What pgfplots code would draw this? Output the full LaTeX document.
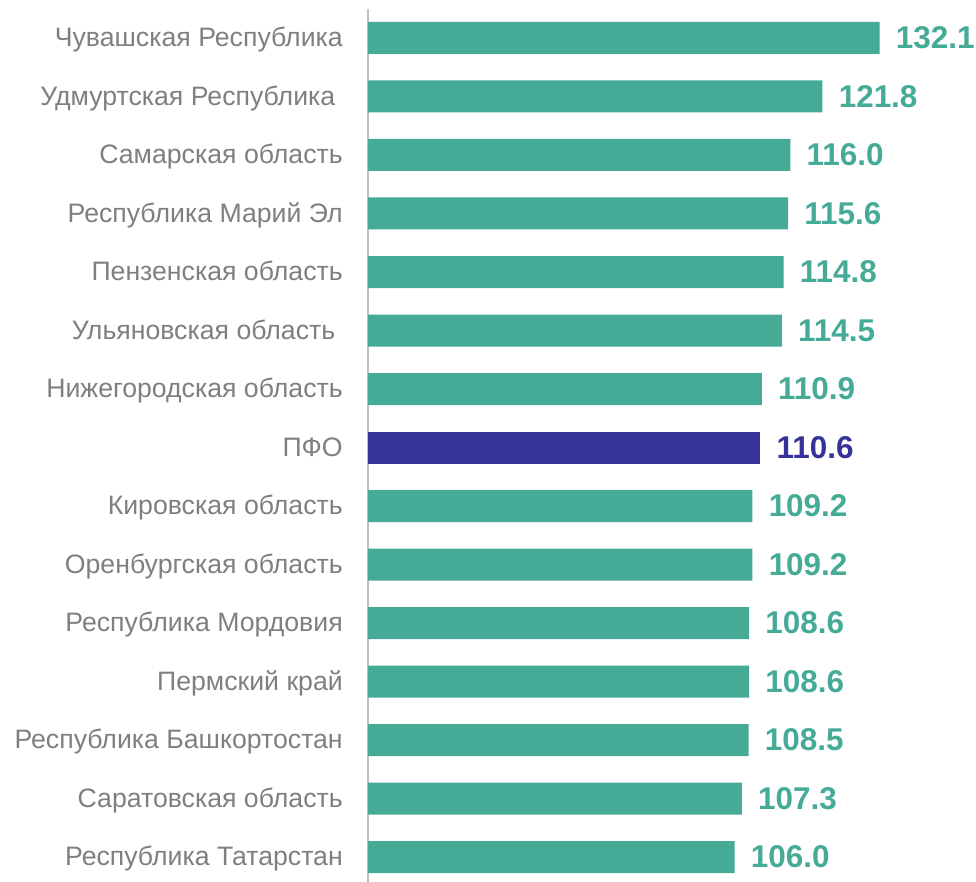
\documentclass[border=0pt]{standalone}
\usepackage{pgfplots}
\pgfplotsset{compat=1.18}
\usepackage{fontspec}
\setmainfont{Liberation Sans}
\definecolor{barteal}{HTML}{45AB97}
\definecolor{barnavy}{HTML}{353399}
\definecolor{labgray}{HTML}{7F7F7F}
\definecolor{axgray}{HTML}{BFBFBF}
\pgfplotstableread{
idx val
0 132.1
1 121.8
2 116.0
3 115.6
4 114.8
5 114.5
6 110.9
8 109.2
9 109.2
10 108.6
11 108.6
12 108.5
13 107.3
14 106.0
}\regions
\pgfplotstableread{
idx val
7 110.6
}\pfo
\begin{document}
\begin{tikzpicture}
\begin{axis}[
  name=ax,
  scale only axis,
  width=399pt, height=658.125pt,
  xbar, bar width=24pt, bar shift=0pt,
  xmin=40, xmax=135.75,
  ymin=-0.5, ymax=14.5,
  y dir=reverse,
  axis x line=none,
  axis y line*=left,
  y axis line style={draw=axgray, line width=1.2pt},
  xtick=\empty,
  ytick={0,...,14},
  yticklabels={Чувашская Республика, Удмуртская Республика\hspace*{0.28em}, Самарская область, Республика Марий Эл, Пензенская область, Ульяновская область\hspace*{0.28em}, Нижегородская область, ПФО, Кировская область, Оренбургская область, Республика Мордовия, Пермский край, Республика Башкортостан, Саратовская область, Республика Татарстан},
  major tick length=0pt,
  ytick style={draw=none},
  yticklabel style={font=\fontsize{20pt}{22pt}\selectfont, text=labgray, anchor=base east, inner sep=0pt, xshift=-18.75pt, yshift=-6.6pt},
  nodes near coords={\pgfmathprintnumber[fixed,fixed zerofill,precision=1,assume math mode=true]{\pgfplotspointmeta}},
  every node near coord/.append style={font=\bfseries\fontsize{23.6pt}{26pt}\selectfont, anchor=west, inner sep=0pt, xshift=12pt},
  clip=false,
]
\addplot[fill=barteal, draw=none, nodes near coords style={text=barteal}] table[x=val, y=idx] {\regions};
\addplot[fill=barnavy, draw=none, nodes near coords style={text=barnavy}] table[x=val, y=idx] {\pfo};
\end{axis}
\pgfresetboundingbox
\path ([xshift=-276pt, yshift=6.5625pt]ax.north west) rectangle ([xshift=456pt, yshift=-654.94pt]ax.north west);
\end{tikzpicture}
\end{document}
